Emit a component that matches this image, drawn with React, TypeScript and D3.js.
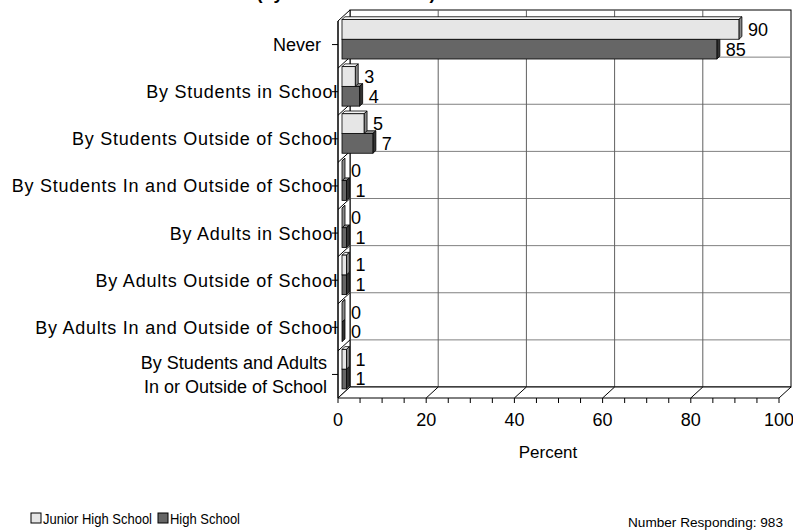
import { useRef, useEffect } from 'react';
import * as d3 from 'd3';

const categories = [
  'Never',
  'By Students in School',
  'By Students Outside of School',
  'By Students In and Outside of School',
  'By Adults in School',
  'By Adults Outside of School',
  'By Adults In and Outside of School',
  'By Students and Adults\nIn or Outside of School',
];
const juniorHigh = [90, 3, 5, 0, 0, 1, 0, 1];
const highSchool = [85, 4, 7, 1, 1, 1, 0, 1];
const xTicks = [0, 20, 40, 60, 80, 100];
const seriesNames = ['Junior High School', 'High School'];
const respondents = 983;

const FONT = '"Liberation Sans", Arial, sans-serif';
const FILLS = [
  { front: '#e6e6e6', top: '#f4f4f4', side: '#8a8a8a' },
  { front: '#666666', top: '#8c8c8c', side: '#333333' },
];

export default function App() {
  const svgRef = useRef<SVGSVGElement>(null);

  useEffect(() => {
    if (!svgRef.current) return;
    const svg = d3.select(svgRef.current);
    svg.selectAll('*').remove();

    const dx = 12;
    const dy = -11; // depth of the box
    const x = d3.scaleLinear().domain([0, 100]).range([338, 779]);
    const y = d3.scaleBand<string>().domain(categories).range([21, 398]);
    const bw = y.bandwidth();
    const left = x(0);
    const right = x(100);
    const top = 21;
    const bottom = 398;

    // back wall + grid
    svg.append('rect')
      .attr('x', left + dx).attr('y', top + dy)
      .attr('width', right - left).attr('height', bottom - top)
      .attr('fill', '#fff').attr('stroke', '#000');
    svg.append('g').selectAll('line')
      .data(categories.slice(1))
      .join('line')
      .attr('x1', left + dx).attr('x2', right + dx)
      .attr('y1', (d) => y(d)! + dy).attr('y2', (d) => y(d)! + dy)
      .attr('stroke', '#808080');
    svg.append('g').selectAll('line')
      .data(xTicks.slice(1, -1))
      .join('line')
      .attr('x1', (d) => x(d) + dx).attr('x2', (d) => x(d) + dx)
      .attr('y1', top + dy).attr('y2', bottom + dy)
      .attr('stroke', '#606060');

    // left wall
    svg.append('polygon')
      .attr('points', [[left, top], [left + dx, top + dy], [left + dx, bottom + dy], [left, bottom]].join(' '))
      .attr('fill', '#fff').attr('stroke', '#000');
    svg.append('g').selectAll('line')
      .data(categories.slice(1))
      .join('line')
      .attr('x1', left).attr('x2', left + dx)
      .attr('y1', (d) => y(d)!).attr('y2', (d) => y(d)! + dy)
      .attr('stroke', '#000');

    // floor
    svg.append('polygon')
      .attr('points', [[left, bottom], [right, bottom], [right + dx, bottom + dy], [left + dx, bottom + dy]].join(' '))
      .attr('fill', '#fff').attr('stroke', '#000');
    svg.append('g').selectAll('line')
      .data(xTicks.slice(1, -1))
      .join('line')
      .attr('x1', (d) => x(d)).attr('x2', (d) => x(d) + dx)
      .attr('y1', bottom).attr('y2', bottom + dy)
      .attr('stroke', '#000');

    // bars
    const bx = 4;
    const by = -1.5;
    const barH = 19.75;
    const ddx = 3;
    const ddy = -2.75;
    const bars: { cat: string; v: number; s: number; t: number }[] = [];
    categories.forEach((c, i) => {
      bars.push({ cat: c, v: highSchool[i], s: 1, t: y(c)! + by + barH });
      bars.push({ cat: c, v: juniorHigh[i], s: 0, t: y(c)! + by });
    });
    const bar = svg.append('g').selectAll('g').data(bars).join('g');
    bar.append('polygon')
      .attr('points', (d) => {
        const x0 = x(0) + bx, x1 = x(d.v) + bx;
        return [[x0, d.t], [x1, d.t], [x1 + ddx, d.t + ddy], [x0 + ddx, d.t + ddy]].join(' ');
      })
      .attr('fill', (d) => FILLS[d.s].top).attr('stroke', '#000').attr('stroke-width', 0.8);
    bar.append('polygon')
      .attr('points', (d) => {
        const x1 = x(d.v) + bx;
        return [[x1, d.t], [x1 + ddx, d.t + ddy], [x1 + ddx, d.t + ddy + barH], [x1, d.t + barH]].join(' ');
      })
      .attr('fill', (d) => FILLS[d.s].side).attr('stroke', '#000').attr('stroke-width', 0.8);
    bar.append('rect')
      .attr('x', x(0) + bx).attr('y', (d) => d.t)
      .attr('width', (d) => x(d.v) - x(0)).attr('height', barH)
      .attr('fill', (d) => FILLS[d.s].front).attr('stroke', '#000').attr('stroke-width', 0.8);
    bar.append('text')
      .attr('x', (d) => x(d.v) + bx + ddx + 6)
      .attr('y', (d) => d.t + barH / 2)
      .attr('dy', '0.36em')
      .attr('font-family', FONT).attr('font-size', 18)
      .text((d) => d.v);

    // category axis
    svg.append('line')
      .attr('x1', left).attr('x2', left).attr('y1', top).attr('y2', bottom).attr('stroke', '#000');
    const cg = svg.append('g').selectAll('g').data(categories).join('g')
      .attr('transform', (d) => `translate(0,${y(d)! + bw / 2})`);
    cg.append('line').attr('x1', left - 6).attr('x2', left).attr('stroke', '#000');
    cg.append('text')
      .attr('font-family', FONT).attr('font-size', 18).attr('text-anchor', 'end')
      .attr('letter-spacing', (d) => (!d.includes('\n') && d.includes(' ') ? 0.75 : 0))
      .selectAll('tspan')
      .data((d) => d.split('\n').map((line, i, arr) => ({
        line,
        off: (i - (arr.length - 1) / 2) * 24,
        end: arr.length > 1 ? left - 11 : line.includes(' ') ? left : left - 17,
      })))
      .join('tspan')
      .attr('x', (d) => d.end)
      .attr('y', (d) => d.off)
      .attr('dy', '0.36em')
      .text((d) => d.line);

    // value axis
    svg.append('g').selectAll('line')
      .data(d3.range(0, 101, 5))
      .join('line')
      .attr('x1', (d) => x(d)).attr('x2', (d) => x(d))
      .attr('y1', bottom).attr('y2', bottom + 5)
      .attr('stroke', '#000');
    svg.append('g').selectAll('text')
      .data(xTicks)
      .join('text')
      .attr('x', (d) => x(d)).attr('y', 426)
      .attr('text-anchor', 'middle')
      .attr('font-family', FONT).attr('font-size', 18)
      .text((d) => d);
    svg.append('text')
      .attr('x', 548).attr('y', 458).attr('text-anchor', 'middle')
      .attr('font-family', FONT).attr('font-size', 17)
      .text('Percent');

    // title (clipped at the top of the picture, as in the source)
    svg.append('text')
      .attr('x', 346).attr('y', -1).attr('text-anchor', 'middle')
      .attr('font-family', FONT).attr('font-size', 18).attr('font-weight', 'bold')
      .text('(by Whom Harassed)');

    // legend (condensed text)
    const legendPos = [{ x: 31, w: 109 }, { x: 158, w: 70 }];
    const lg = svg.append('g').selectAll('g').data(seriesNames).join('g')
      .attr('transform', (_, i) => `translate(${legendPos[i].x},513)`);
    lg.append('rect').attr('width', 10).attr('height', 10)
      .attr('fill', (_, i) => FILLS[i].front).attr('stroke', '#000');
    lg.append('text').attr('x', 12).attr('y', 11)
      .attr('font-family', FONT).attr('font-size', 14.5)
      .attr('textLength', (_, i) => legendPos[i].w).attr('lengthAdjust', 'spacingAndGlyphs')
      .text((d) => d);

    svg.append('text')
      .attr('x', 628).attr('y', 527)
      .attr('font-family', FONT).attr('font-size', 13)
      .attr('textLength', 155).attr('lengthAdjust', 'spacingAndGlyphs')
      .text(`Number Responding:  ${respondents}`);
  }, []);

  return (
    <svg
      ref={svgRef}
      width={793}
      height={531}
      style={{ position: 'absolute', left: 0, top: 0, background: '#fff' }}
    />
  );
}
